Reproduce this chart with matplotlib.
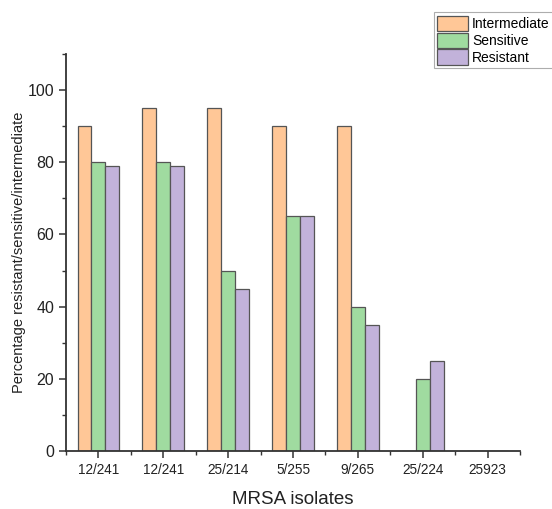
import matplotlib
matplotlib.use("Agg")
import matplotlib.pyplot as plt
import numpy as np
from matplotlib.ticker import FixedLocator

plt.rcParams["font.family"] = ["Liberation Sans", "DejaVu Sans"]

isolates = ["12/241", "12/241", "25/214", "5/255", "9/265", "25/224", "25923"]
intermediate = [90, 95, 95, 90, 90, 0, 0]
sensitive = [80, 80, 50, 65, 40, 20, 0]
resistant = [79, 79, 45, 65, 35, 25, 0]

series = [("Intermediate", intermediate, "#FFC797"),
          ("Sensitive", sensitive, "#A0DBA0"),
          ("Resistant", resistant, "#C2B2DA")]

fig = plt.figure(figsize=(5.52, 5.09), dpi=100)
ax = fig.add_axes([0.1196, 0.114, 0.8224, 0.78])

x = np.arange(len(isolates))
w = 0.215
handles = []
for i, (name, vals, col) in enumerate(series):
    h = ax.bar(x + (i - 1) * w, vals, width=w, color=col, edgecolor="#555555",
               linewidth=0.9, label=name)
    handles.append(h)

ax.set_xlim(-0.5, 6.5)
ax.set_ylim(0, 110)
ax.set_xticks(x)
ax.set_xticklabels(isolates, fontsize=9.8, color="#222222")
ax.xaxis.set_minor_locator(FixedLocator(np.arange(-0.5, 7, 1.0)))
ax.yaxis.set_major_locator(FixedLocator([0, 20, 40, 60, 80, 100]))
ax.yaxis.set_minor_locator(FixedLocator([10, 30, 50, 70, 90, 110]))
ax.tick_params(axis="y", labelsize=11.5, colors="#222222")
ax.tick_params(which="major", direction="out", length=5, width=1.1, color="#333333")
ax.tick_params(which="minor", direction="out", length=3, width=1.0, color="#333333")

for s in ["top", "right"]:
    ax.spines[s].set_visible(False)
for s in ["left", "bottom"]:
    ax.spines[s].set_linewidth(1.3)
    ax.spines[s].set_color("#333333")

ax.set_xlabel("MRSA isolates", fontsize=13.5, color="#222222", labelpad=10)
ax.set_ylabel("Percentage resistant/sensitive/intermediate", fontsize=10.5,
              color="#222222", labelpad=1)

leg = fig.legend(handles=handles, loc="upper left", bbox_to_anchor=(0.786, 0.976),
                 fontsize=10, frameon=True, fancybox=False, edgecolor="#999999",
                 handlelength=2.2, handleheight=1.3, handletextpad=0.3,
                 borderpad=0.25, labelspacing=0.12, borderaxespad=0)
leg.get_frame().set_linewidth(0.8)

fig.savefig("out.png", dpi=100)
